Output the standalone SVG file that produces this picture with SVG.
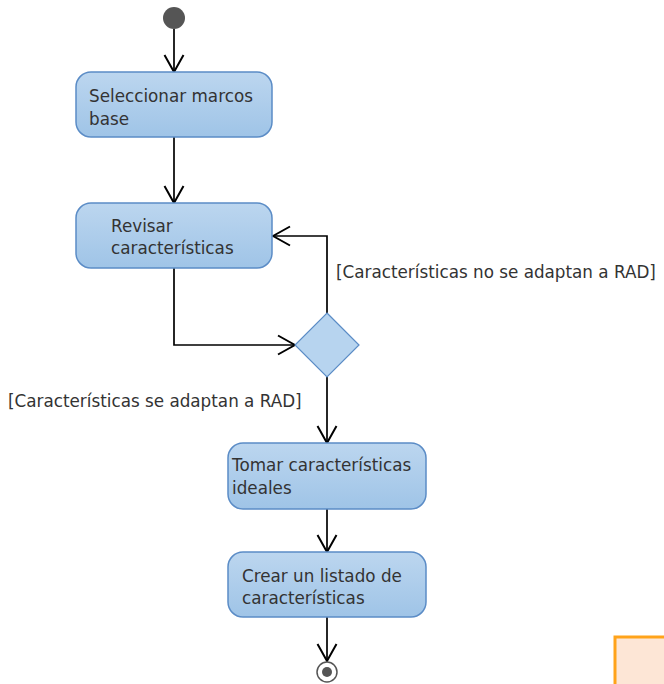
<svg xmlns="http://www.w3.org/2000/svg" width="664" height="684" viewBox="0 0 664 684">
  <defs>
    <linearGradient id="actFill" x1="0" y1="0" x2="0" y2="1">
      <stop offset="0" stop-color="#bcd6ef"/>
      <stop offset="1" stop-color="#9fc4e7"/>
    </linearGradient>
    <marker id="open" viewBox="0 0 19 22" refX="18" refY="11" markerWidth="19" markerHeight="22" markerUnits="userSpaceOnUse" orient="auto">
      <path d="M1,1.5 L18,11 L1,20.5" fill="none" stroke="#000" stroke-width="2"/>
    </marker>
  </defs>
  <style>
    .act { fill: url(#actFill); stroke: #5b8cc6; stroke-width: 1.5; }
    .lbl { font-family: "DejaVu Sans", Verdana, sans-serif; font-size: 16.8px; fill: #333; }
    .edge { fill: none; stroke: #000; stroke-width: 1.7; marker-end: url(#open); }
  </style>
  <rect width="664" height="684" fill="#fff"/>

  <g id="connectors">
    <path class="edge" d="M174,29 V72"/>
    <path class="edge" d="M174,137 V203"/>
    <path class="edge" d="M174,268 V345 H295"/>
    <path class="edge" d="M327,313 V236 H273"/>
    <path class="edge" d="M327,377 V443"/>
    <path class="edge" d="M327,509 V552"/>
    <path class="edge" d="M327,617 V661"/>
  </g>

  <g id="start">
    <circle cx="174" cy="18" r="11" fill="#555"/>
  </g>

  <g id="select-base">
    <rect class="act" x="76" y="72" width="196" height="65" rx="15"/>
    <text class="lbl" x="89" y="102">Seleccionar marcos</text>
    <text class="lbl" x="89" y="125">base</text>
  </g>

  <g id="review">
    <rect class="act" x="76" y="203" width="196" height="65" rx="15"/>
    <text class="lbl" x="111" y="232">Revisar</text>
    <text class="lbl" x="111" y="254">características</text>
  </g>

  <g id="decision">
    <polygon points="327,313 359,345 327,377 295,345" fill="#b7d4ef" stroke="#5b8cc6" stroke-width="1.2"/>
  </g>

  <g id="guard-no">
    <text class="lbl" x="336" y="278">[Características no se adaptan a RAD]</text>
  </g>

  <g id="guard-yes">
    <text class="lbl" x="8" y="407">[Características se adaptan a RAD]</text>
  </g>

  <g id="take-ideal">
    <rect class="act" x="228" y="443" width="198" height="66" rx="15"/>
    <text class="lbl" x="232" y="471">Tomar características</text>
    <text class="lbl" x="232" y="494">ideales</text>
  </g>

  <g id="create-list">
    <rect class="act" x="228" y="552" width="198" height="65" rx="15"/>
    <text class="lbl" x="242" y="582">Crear un listado de</text>
    <text class="lbl" x="242" y="604">características</text>
  </g>

  <g id="end">
    <circle cx="327" cy="672" r="10" fill="#fff" stroke="#555" stroke-width="1.5"/>
    <circle cx="327" cy="672" r="5" fill="#555"/>
  </g>

  <g id="note">
    <rect x="615" y="637" width="60" height="60" fill="#fde6d6" stroke="#ffa31a" stroke-width="3"/>
  </g>
</svg>
